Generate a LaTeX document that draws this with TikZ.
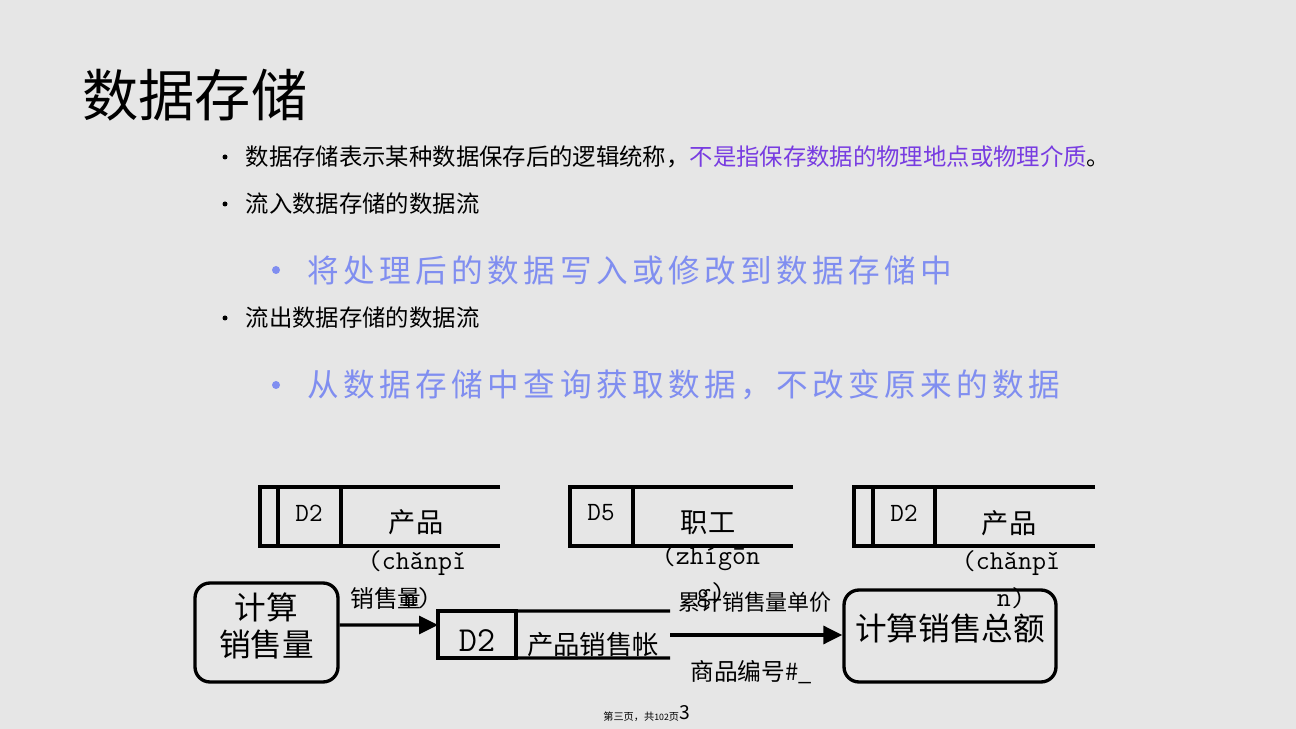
\documentclass[tikz,border=0pt]{standalone}
\usepackage{fontspec}
\setmainfont{Noto Sans CJK SC}
\usepackage{xcolor}
\usetikzlibrary{positioning, arrows.meta}
\definecolor{bgGray}{RGB}{230,230,230}
\definecolor{purpleText}{RGB}{120,60,225}
\definecolor{blueText}{RGB}{128,142,240}
\tikzset{
    heading/.style={anchor=west, inner sep=0pt, font=\fontsize{32}{36}\selectfont},
    bulletDot/.style={circle, fill=black, inner sep=0pt, minimum size=0.1cm},
    subDot/.style={circle, fill=blueText, inner sep=0pt, minimum size=0.16cm},
    bulletText/.style={inner sep=0pt, font=\fontsize{13.3}{16}\selectfont},
    subText/.style={inner sep=0pt, text=blueText, font=\fontsize{18}{22}\selectfont\addfontfeature{LetterSpace=14}},
    storeLine/.style={line width=1.8pt},
    storeId/.style={inner sep=0pt, font=\ttfamily\fontsize{15}{16}\selectfont},
    storeName/.style={inner sep=0pt, font=\fontsize{15.5}{18}\selectfont},
    pinyin/.style={inner sep=0pt, align=center, font=\ttfamily\fontsize{15.5}{21}\selectfont},
    process/.style={rectangle, draw=black, line width=1.9pt, rounded corners=0.3cm, align=center, inner sep=0pt, font=\fontsize{18}{21.5}\selectfont},
    flowLabel/.style={inner sep=0pt, font=\fontsize{12.5}{15}\selectfont},
    arrow/.style={-{Triangle[length=0.38cm, width=0.36cm]}, line width=1.8pt}
}
\begin{document}
\begin{tikzpicture}[x=0.02cm, y=-0.02cm]
    % Slide background
    \fill[bgGray] (0,0) rectangle (1296,729);
    \useasboundingbox (0,0) rectangle (1296,729);

    % Title
    \node[heading] (title) at (82,95) {数据存储};

    % Bullets
    \node[bulletDot] (dotA) at (225,157) {};
    \node[bulletText, right=0.35cm of dotA] (textA) {数据存储表示某种数据保存后的逻辑统称，\textcolor{purpleText}{不是指保存数据的物理地点或物理介质}。};
    \node[bulletDot] (dotB) at (225,204) {};
    \node[bulletText, right=0.35cm of dotB] (textB) {流入数据存储的数据流};
    \node[subDot] (dotC) at (276,270) {};
    \node[subText, right=0.54cm of dotC] (textC) {将处理后的数据写入或修改到数据存储中};
    \node[bulletDot] (dotD) at (225,318) {};
    \node[bulletText, right=0.35cm of dotD] (textD) {流出数据存储的数据流};
    \node[subDot] (dotE) at (276,385) {};
    \node[subText, right=0.54cm of dotE] (textE) {从数据存储中查询获取数据，不改变原来的数据};

    % Store D2 (left)
    \draw[storeLine] (500,487) -- (260,487) -- (260,546) -- (500,546);
    \draw[storeLine] (278,487) -- (278,546) (341,487) -- (341,546);
    \node[storeId] (prodIdA) at (309,513) {D2};
    \node[storeName] (prodNameA) at (416,522) {产品};
    \node[pinyin] (prodPyA) at (417,580) {(chǎnpǐ\\n)};

    % Store D5
    \draw[storeLine] (793,487) -- (570,487) -- (570,546) -- (793,546);
    \draw[storeLine] (633,487) -- (633,546);
    \node[storeId] (staffId) at (601,513) {D5};
    \node[storeName] (staffName) at (708,523) {职工};
    \node[pinyin] (staffPy) at (711,577) {(zhígōn\\g)};

    % Store D2 (right)
    \draw[storeLine] (1095,487) -- (854,487) -- (854,546) -- (1095,546);
    \draw[storeLine] (873,487) -- (873,546) (935,487) -- (935,546);
    \node[storeId] (prodIdB) at (904,513) {D2};
    \node[storeName] (prodNameB) at (1009,523) {产品};
    \node[pinyin] (prodPyB) at (1011,580) {(chǎnpǐ\\n)};

    % Processes
    \node[process, minimum width=2.86cm, minimum height=1.98cm, text depth=9pt] (calcQty) at (266.5,632.5) {计算\\销售量};
    \node[process, minimum width=4.24cm, minimum height=1.84cm, text height=16pt, text depth=11.4pt] (calcTotal) at (950,636) {计算销售总额};

    % Store D2 sales ledger
    \node[draw, storeLine, outer sep=0pt, minimum width=1.56cm, minimum height=0.94cm, inner sep=0pt, text height=18.8pt, text depth=0pt, font=\ttfamily\fontsize{20}{22}\selectfont] (salesId) at (477,634.5) {D2};
    \coordinate (salesEnd) at (670,635);
    \draw[storeLine] (salesId.north east) -- (670,611) (salesId.south east) -- (670,658);
    \node[storeName, font=\fontsize{15}{18}\selectfont] (salesName) at (593,645) {产品销售帐};

    % Flows
    \draw[arrow] ([yshift=0.15cm]calcQty.east) -- ([yshift=0.19cm]salesId.west);
    \node[flowLabel, font=\fontsize{13.5}{16}\selectfont] (qtyLabel) at (386,598) {销售量};
    \draw[arrow] (salesEnd) -- (calcTotal.west |- salesEnd);
    \node[flowLabel] (sumLabel) at (755,602) {累计销售量单价};
    \node[flowLabel, font=\fontsize{13.5}{16}\selectfont] (codeLabel) at (751,672) {商品编号\#\_};

    % Footer
    \node[inner sep=0pt, anchor=west, font=\fontsize{5.8}{6}\selectfont] (pageText) at (603,717) {第三页，共{\fontsize{5}{6}\selectfont 102}页};
    \node[inner sep=0pt, font=\fontsize{11}{12}\selectfont] (pageNum) at (685,713) {3};
\end{tikzpicture}
\end{document}
